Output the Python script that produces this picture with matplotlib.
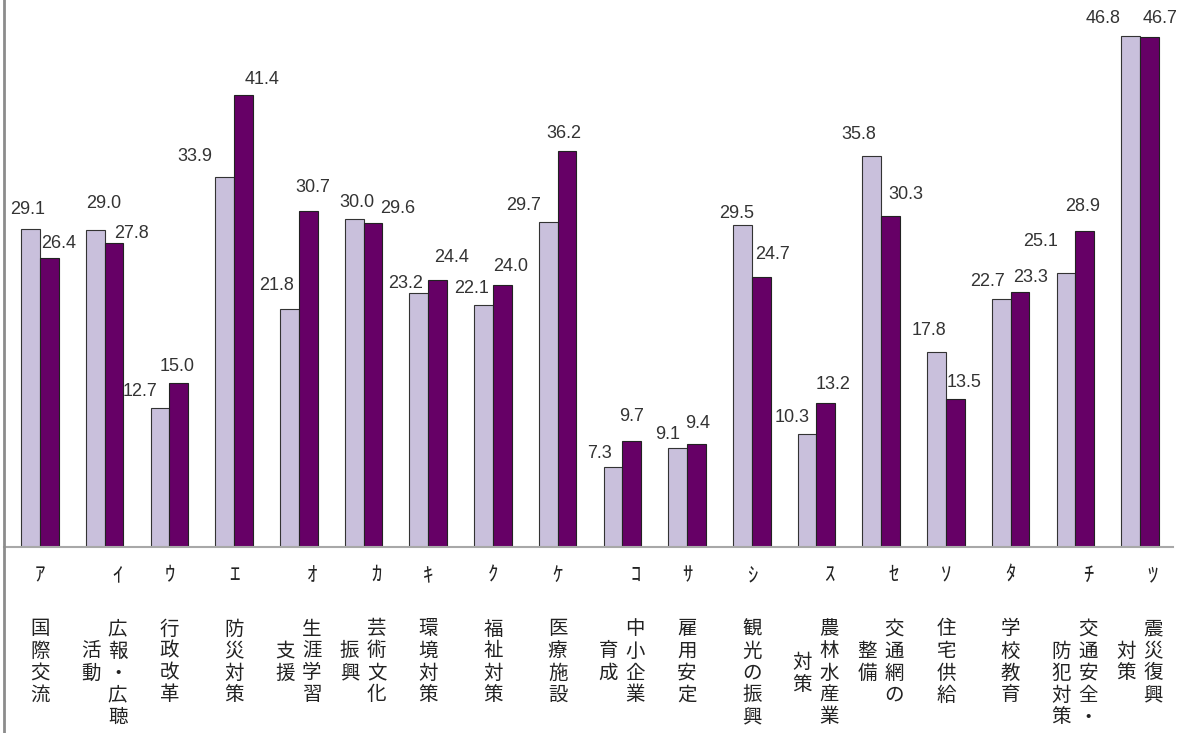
import matplotlib.pyplot as plt
from matplotlib.lines import Line2D
import numpy as np

plt.rcParams['font.family'] = ['Noto Sans CJK JP', 'DejaVu Sans']

# data
kana = ['ｱ', 'ｲ', 'ｳ', 'ｴ', 'ｵ', 'ｶ', 'ｷ', 'ｸ', 'ｹ',
        'ｺ', 'ｻ', 'ｼ', 'ｽ', 'ｾ', 'ｿ', 'ﾀ', 'ﾁ', 'ﾂ']
names = [['国際交流'], ['広報・広聴', '活動'], ['行政改革'], ['防災対策'],
         ['生涯学習', '支援'], ['芸術文化', '振興'], ['環境対策'], ['福祉対策'],
         ['医療施設'], ['中小企業', '育成'], ['雇用安定'], ['観光の振興'],
         ['農林水産業', '対策'], ['交通網の', '整備'], ['住宅供給'], ['学校教育'],
         ['交通安全・', '防犯対策'], ['震災復興', '対策']]
prev_vals = [29.1, 29.0, 12.7, 33.9, 21.8, 30.0, 23.2, 22.1, 29.7,
             7.3, 9.1, 29.5, 10.3, 35.8, 17.8, 22.7, 25.1, 46.8]
curr_vals = [26.4, 27.8, 15.0, 41.4, 30.7, 29.6, 24.4, 24.0, 36.2,
             9.7, 9.4, 24.7, 13.2, 30.3, 13.5, 23.3, 28.9, 46.7]

# label nudges (pixels): horizontal shift and gap above bar
prev_dx = [-3, 8, -20, -30, -13, 3, -13, -12, -25, -13, -10, -6, -15, -13, -7, -14, -25, -27]
prev_gap = [11, 18, 8, 12, 15, 8, 1, 8, 8, 5, 5, 3, 8, 13, 13, 9, 23, 9]
curr_dx = [9, 17, -2, 19, 5, 25, 14, 8, -3, 0, 1, 11, 7, 15, 9, 11, -2, 11]
curr_gap = [6, 1, 8, 7, 15, 6, 14, 10, 9, 16, 12, 14, 10, 13, 8, 6, 16, 10]
left_col_start = [1, 1, 1, 1, 1, 1, 1, 1, 1, 1, 1, 1, 1.5, 1, 1, 1, 1, 1]

W, H = 1189, 733
fig = plt.figure(figsize=(W / 100, H / 100), dpi=100)
fig.patch.set_facecolor('white')
ax = fig.add_axes([4 / W, 186 / H, (1173 - 4) / W, (H - 186) / H])

x = np.arange(len(kana))
bw = 0.29
ax.bar(x - bw / 2, prev_vals, bw, color='#c9c0dc', edgecolor='#333333', linewidth=0.8)
ax.bar(x + bw / 2, curr_vals, bw, color='#660066', edgecolor='#222222', linewidth=0.8)

ax.set_xlim(-0.556, 17.51)
ax.set_ylim(0, 50.05)
ax.set_xticks([])
ax.set_yticks([])
for s in ['top', 'right', 'left']:
    ax.spines[s].set_visible(False)
ax.spines['bottom'].set_color('#a8a8a8')
ax.spines['bottom'].set_linewidth(1.5)

# left vertical line spanning full height
fig.add_artist(Line2D([4 / W, 4 / W], [0, 1], transform=fig.transFigure,
                      color='#8c8c8c', linewidth=2))

k = 0.72  # px -> pt
num_kw = dict(textcoords='offset points', ha='center', va='bottom',
              fontsize=13, color='#333333', family='Liberation Sans')
for i in range(len(kana)):
    ax.annotate(f'{prev_vals[i]:.1f}', xy=(i - bw / 2, prev_vals[i]),
                xytext=(prev_dx[i] * k, prev_gap[i] * k), **num_kw)
    ax.annotate(f'{curr_vals[i]:.1f}', xy=(i + bw / 2, curr_vals[i]),
                xytext=(curr_dx[i] * k, curr_gap[i] * k), **num_kw)

# category labels, written vertically (columns right to left)
row0, pitch = 82, 22  # px below baseline for first kanji row
for i, cols in enumerate(names):
    if len(cols) == 1:
        xs = [0]
    else:
        xs = [13, -14]
    ax.annotate(kana[i], xy=(i, 0), xycoords=('data', 'axes fraction'),
                xytext=(xs[0] * k, -28 * k), textcoords='offset points',
                ha='center', va='center', fontsize=15, color='#222222',
                annotation_clip=False)
    for c, col in enumerate(cols):
        start = 0 if c == 0 else left_col_start[i]
        for r, ch in enumerate(col):
            ax.annotate(ch, xy=(i, 0), xycoords=('data', 'axes fraction'),
                        xytext=(xs[c] * k, -(row0 + (start + r) * pitch) * k),
                        textcoords='offset points', ha='center', va='center',
                        fontsize=14, color='#222222', annotation_clip=False)

fig.savefig('out.png', dpi=100, facecolor='white')
plt.close(fig)
